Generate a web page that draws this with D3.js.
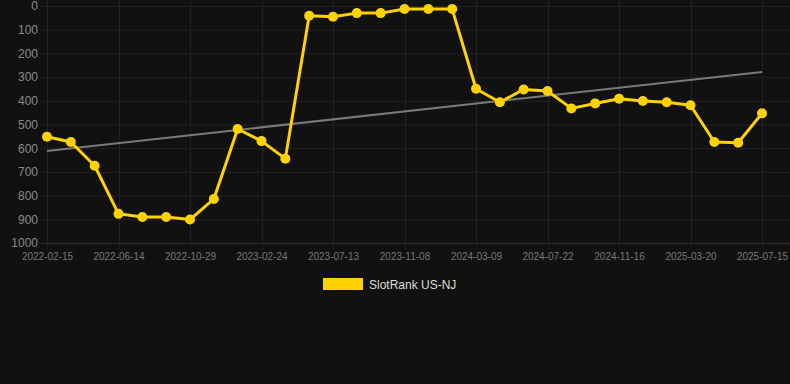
<!DOCTYPE html>
<html>
  <head lang="en">
    <meta charset="utf-8">
    <title>SlotRank US-NJ</title>
    <script type="text/javascript" src="https://cdn.jsdelivr.net/npm/d3@7"></script>
    <style>
      html, body { margin: 0; padding: 0; background: #111111; }
      svg { display: block; font-family: "Liberation Sans", Arial, sans-serif; }
    </style>
  </head>
  <body>
    <script type="text/javascript">

      // dates of every point (only every third one is labelled)
      var dates = ["2022-02-15", "2022-03-26", "2022-05-05", "2022-06-14", "2022-07-29",
                   "2022-09-13", "2022-10-29", "2022-12-08", "2023-01-16", "2023-02-24",
                   "2023-04-14", "2023-05-29", "2023-07-13", "2023-08-21", "2023-09-30",
                   "2023-11-08", "2023-12-18", "2024-01-28", "2024-03-09", "2024-04-23",
                   "2024-06-07", "2024-07-22", "2024-08-29", "2024-10-08", "2024-11-16",
                   "2024-12-27", "2025-02-07", "2025-03-20", "2025-04-26", "2025-06-06",
                   "2025-07-15"];

      // rank values
      var ranks = [552, 574, 674, 877, 890, 890, 901, 814, 519, 570,
                   644, 41, 45, 30, 30, 13, 13, 13, 349, 406,
                   352, 359, 432, 411, 391, 401, 406, 419, 574, 577,
                   453];

      // trend line at first and last date
      var trend = [612, 278];

      var yTicks = [0, 100, 200, 300, 400, 500, 600, 700, 800, 900, 1000];
      var seriesName = "SlotRank US-NJ";

      var width = 790, height = 384;
      var margin = {top: 6, left: 47, right: 28, bottom: 141};
      var gold = "#ffd200";

      var svg = d3.select("body")
                  .append("svg")
                  .attr("width", width)
                  .attr("height", height);

      // scales
      var x = d3.scalePoint()
                .domain(dates)
                .range([margin.left, width - margin.right]);

      var y = d3.scaleLinear()
                .domain([0, 1000])
                .range([margin.top, height - margin.bottom]);

      var labelled = dates.filter(function(d, i) { return i % 3 == 0; });

      // horizontal grid
      svg.append("g")
         .selectAll("line")
         .data(yTicks)
         .enter()
         .append("line")
         .attr("x1", 40)
         .attr("x2", width)
         .attr("y1", function(d) { return y(d) + 0.5; })
         .attr("y2", function(d) { return y(d) + 0.5; })
         .attr("stroke", function(d) { return d == 1000 ? "#303030" : "#222222"; })
         .attr("stroke-width", 1);

      // vertical grid
      svg.append("g")
         .selectAll("line")
         .data(labelled)
         .enter()
         .append("line")
         .attr("x1", function(d) { return Math.round(x(d)) + 0.5; })
         .attr("x2", function(d) { return Math.round(x(d)) + 0.5; })
         .attr("y1", 0)
         .attr("y2", y(1000) + 6)
         .attr("stroke", "#222222")
         .attr("stroke-width", 1);

      // y axis
      var yAxis = svg.append("g")
         .attr("transform", "translate(38,0)")
         .call(d3.axisLeft(y).tickValues(yTicks).tickFormat(d3.format("d"))
                 .tickSize(0).tickPadding(0));
      yAxis.select(".domain").remove();
      yAxis.selectAll("text")
           .attr("fill", "#8a8a8a")
           .style("font-size", "12px");

      // x axis
      var xAxis = svg.append("g")
         .attr("transform", "translate(0," + (y(1000) + 10) + ")")
         .call(d3.axisBottom(x).tickValues(labelled).tickSize(0).tickPadding(0));
      xAxis.select(".domain").remove();
      xAxis.selectAll("text")
           .attr("fill", "#777777")
           .style("font-size", "10px");

      // trend line
      svg.append("line")
         .attr("x1", x(dates[0]))
         .attr("x2", x(dates[dates.length - 1]))
         .attr("y1", y(trend[0]))
         .attr("y2", y(trend[1]))
         .attr("stroke", "#7a7a7a")
         .attr("stroke-width", 2);

      // rank line
      var line = d3.line()
                   .x(function(d, i) { return x(dates[i]); })
                   .y(function(d) { return y(d); });

      svg.append("path")
         .datum(ranks)
         .attr("d", line)
         .attr("fill", "none")
         .attr("stroke", gold)
         .attr("stroke-width", 3)
         .attr("stroke-linejoin", "round");

      svg.append("g")
         .selectAll("circle")
         .data(ranks)
         .enter()
         .append("circle")
         .attr("cx", function(d, i) { return x(dates[i]); })
         .attr("cy", function(d) { return y(d); })
         .attr("r", 5)
         .attr("fill", gold);

      // legend
      var legend = svg.append("g").attr("transform", "translate(323,278)");
      legend.append("rect")
            .attr("width", 40)
            .attr("height", 12)
            .attr("fill", gold);
      legend.append("text")
            .attr("x", 46)
            .attr("y", 10.5)
            .attr("fill", "#dddddd")
            .style("font-size", "12px")
            .text(seriesName);
    </script>
  </body>
</html>
